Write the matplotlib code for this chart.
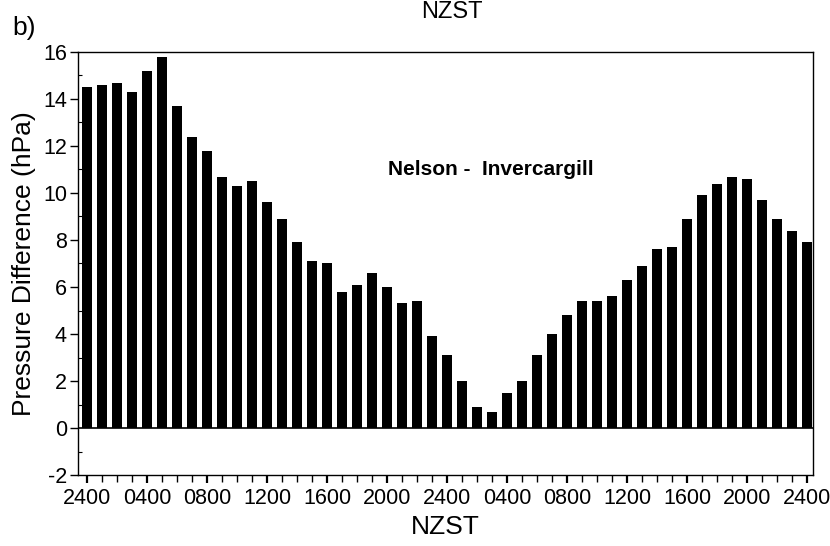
import numpy as np
import matplotlib.pyplot as plt
from matplotlib.ticker import MultipleLocator, FixedLocator

plt.rcParams['font.family'] = ['Liberation Sans', 'DejaVu Sans']
plt.rcParams['axes.unicode_minus'] = False

# hourly pressure difference over two days, 2400 NZST to 2400 NZST
hours = np.arange(49)
dp = [14.5, 14.6, 14.7, 14.3, 15.2, 15.8, 13.7, 12.4, 11.8, 10.7,
      10.3, 10.5, 9.6, 8.9, 7.9, 7.1, 7.0, 5.8, 6.1, 6.6,
      6.0, 5.3, 5.4, 3.9, 3.1, 2.0, 0.9, 0.7, 1.5, 2.0,
      3.1, 4.0, 4.8, 5.4, 5.4, 5.6, 6.3, 6.9, 7.6, 7.7,
      8.9, 9.9, 10.4, 10.7, 10.6, 9.7, 8.9, 8.4, 7.9]
tick_hours = np.arange(0, 49, 4)
tick_labels = ['2400', '0400', '0800', '1200', '1600', '2000',
               '2400', '0400', '0800', '1200', '1600', '2000', '2400']

fig = plt.figure(figsize=(8.3, 5.46), dpi=100)
ax = fig.add_axes([0.094, 0.130, 0.8855, 0.7748])

ax.bar(hours, dp, width=0.66, color='black', zorder=2)
ax.axhline(0, color='black', lw=1.2, zorder=3)

ax.set_xlim(-0.6, 48.4)
ax.set_ylim(-2, 16)

ax.xaxis.set_major_locator(FixedLocator(tick_hours))
ax.set_xticklabels(tick_labels)
ax.xaxis.set_minor_locator(MultipleLocator(1))
ax.yaxis.set_major_locator(MultipleLocator(2))
ax.yaxis.set_minor_locator(MultipleLocator(1))

ax.tick_params(axis='x', which='major', direction='out', length=6, width=1.6,
               labelsize=15.5, pad=3)
ax.tick_params(axis='x', which='minor', direction='out', length=5, width=1.0)
ax.tick_params(axis='y', which='major', direction='out', length=6, width=1.0,
               labelsize=15.5, pad=2)
ax.tick_params(axis='y', which='minor', direction='in', length=3, width=0.8)

for s in ax.spines.values():
    s.set_linewidth(1.0)

ax.set_xlabel('NZST', fontsize=19, labelpad=5)
ax.set_ylabel('Pressure Difference (hPa)', fontsize=19, labelpad=5)

ax.text(26.9, 11.0, 'Nelson -  Invercargill', fontsize=15, fontweight='bold',
        ha='center', va='center')

fig.text(0.015, 0.935, 'b)', fontsize=19, ha='left', va='baseline')
fig.text(0.545, 0.998, 'NZST', fontsize=17, ha='center', va='top')

fig.savefig('out.png', dpi=100)
